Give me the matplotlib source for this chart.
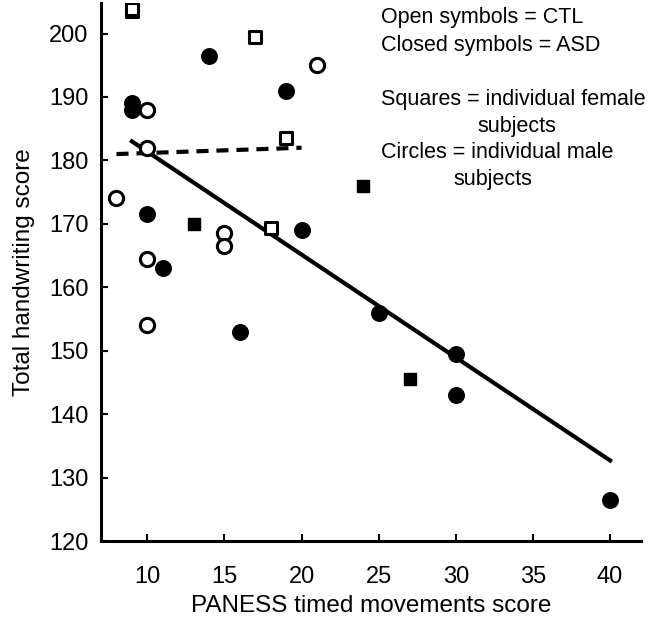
import matplotlib
matplotlib.use("Agg")
import matplotlib.pyplot as plt

plt.rcParams['font.family'] = ['Liberation Sans', 'DejaVu Sans']

# CTL (open symbols)
ctl_f_x = [9, 9, 17, 19, 18]
ctl_f_y = [203.5, 203.8, 199.5, 183.6, 169.3]
ctl_m_x = [21, 8, 10, 10, 10, 10, 15, 15]
ctl_m_y = [195.0, 174.0, 188.0, 182.0, 164.4, 154.0, 168.5, 166.5]

# ASD (closed symbols)
asd_f_x = [13, 24, 27]
asd_f_y = [170.0, 176.0, 145.5]
asd_m_x = [9, 9, 14, 19, 10, 11, 16, 20, 25, 30, 30, 40]
asd_m_y = [189.0, 188.0, 196.5, 191.0, 171.5, 163.0, 153.0, 169.0, 156.0, 149.5, 143.0, 126.5]

# regression lines (endpoints)
asd_fit_x = [9, 40]
asd_fit_y = [183.0, 132.7]
ctl_fit_x = [8, 20]
ctl_fit_y = [181.0, 182.0]

legend_lines = ["Open symbols = CTL", "Closed symbols = ASD", "",
                "Squares = individual female", "subjects",
                "Circles = individual male", "subjects"]

fig = plt.figure(figsize=(6.52, 6.19), dpi=100)
ax = fig.add_axes([0.155, 0.126, 0.828, 0.869])

ax.plot(asd_fit_x, asd_fit_y, color='black', lw=3, zorder=1)
ax.plot(ctl_fit_x, ctl_fit_y, color='black', lw=3, ls=(0, (2.9, 1.9)), zorder=1)

ax.scatter(ctl_f_x, ctl_f_y, marker='s', s=80, facecolor='white', edgecolor='black', linewidths=2.2, zorder=3)
ax.scatter(ctl_m_x, ctl_m_y, marker='o', s=105, facecolor='white', edgecolor='black', linewidths=2.2, zorder=3)
ax.scatter(asd_f_x, asd_f_y, marker='s', s=70, facecolor='black', edgecolor='black', linewidths=1, zorder=3)
ax.scatter(asd_m_x, asd_m_y, marker='o', s=125, facecolor='black', edgecolor='black', linewidths=1, zorder=3)

ax.set_xlim(7.0, 42.0)
ax.set_ylim(120, 204.8)
ax.set_xticks([10, 15, 20, 25, 30, 35, 40])
ax.set_yticks(range(120, 201, 10))
ax.spines['top'].set_visible(False)
ax.spines['right'].set_visible(False)
for s in ['left', 'bottom']:
    ax.spines[s].set_linewidth(2.2)
ax.tick_params(axis='both', direction='in', length=5, width=1.5, labelsize=17)
ax.tick_params(axis='x', pad=18)
ax.tick_params(axis='y', pad=9)

ax.set_xlabel("PANESS timed movements score", fontsize=17.5, labelpad=5)
ax.set_ylabel("Total handwriting score", fontsize=17.5, labelpad=10)

# annotation text block in the upper right
y0 = 18
for i, line in enumerate(legend_lines):
    if not line:
        continue
    xpx = 381 if line != "subjects" else (477 if i == 4 else 453)
    ypx = y0 + i * 27
    fig.text(xpx / 652, 1 - ypx / 619, line, fontsize=15.5, va='center', ha='left')

fig.savefig("out.png", dpi=100)
